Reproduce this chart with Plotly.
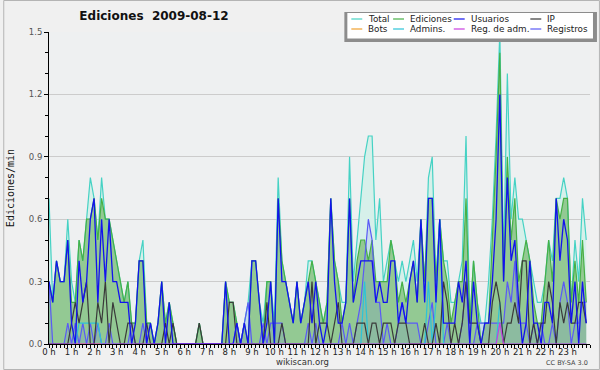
import plotly.graph_objects as go

# 10-minute slots over the day (144 points), values in edits per minute
slots_per_hour = 6
n_slots = 144
hour_labels = [f"{h} h" for h in range(24)]

total = [
    0.7, 0.2, 0.4, 0.3, 0.3, 0.6,
    0.3, 0.2, 0.5, 0.4, 0.6, 0.8,
    0.7, 0.5, 0.8, 0.6, 0.6, 0.5,
    0.4, 0.3, 0.2, 0.3, 0.1, 0.1,
    0.4, 0.5, 0.1, 0.1, 0.0, 0.1,
    0.3, 0.1, 0.2, 0.1, 0.0, 0.0,
    0.0, 0.0, 0.0, 0.0, 0.1, 0.0,
    0.0, 0.0, 0.0, 0.0, 0.0, 0.3,
    0.2, 0.2, 0.1, 0.0, 0.1, 0.2,
    0.4, 0.4, 0.2, 0.1, 0.3, 0.3,
    0.1, 0.8, 0.4, 0.3, 0.2, 0.1,
    0.3, 0.1, 0.2, 0.4, 0.4, 0.3,
    0.2, 0.1, 0.2, 0.7, 0.4, 0.3,
    0.2, 0.2, 0.9, 0.3, 0.5, 0.7,
    0.9, 1.0, 1.0, 0.5, 0.7, 0.3,
    0.4, 0.5, 0.4, 0.3, 0.4, 0.3,
    0.4, 0.5, 0.3, 0.6, 0.3, 0.8,
    0.9, 0.3, 0.6, 0.4, 0.4, 0.2,
    0.2, 0.3, 0.4, 1.0, 0.1, 0.4,
    0.2, 0.1, 0.1, 0.3, 0.6, 1.0,
    1.5, 0.4, 1.3, 0.6, 0.8, 0.6,
    0.6, 0.5, 0.4, 0.3, 0.2, 0.2,
    0.3, 0.5, 0.4, 0.7, 0.7, 0.8,
    0.7, 0.2, 0.5, 0.3, 0.7, 0.5,
]

ediciones = [
    0.3, 0.2, 0.4, 0.3, 0.3, 0.5,
    0.2, 0.2, 0.5, 0.4, 0.6, 0.6,
    0.7, 0.5, 0.7, 0.6, 0.6, 0.5,
    0.4, 0.3, 0.2, 0.3, 0.1, 0.1,
    0.4, 0.4, 0.1, 0.1, 0.0, 0.1,
    0.3, 0.1, 0.2, 0.1, 0.0, 0.0,
    0.0, 0.0, 0.0, 0.0, 0.1, 0.0,
    0.0, 0.0, 0.0, 0.0, 0.0, 0.3,
    0.2, 0.2, 0.1, 0.0, 0.1, 0.0,
    0.4, 0.4, 0.2, 0.0, 0.3, 0.3,
    0.0, 0.7, 0.4, 0.3, 0.2, 0.1,
    0.3, 0.1, 0.2, 0.3, 0.4, 0.3,
    0.2, 0.1, 0.2, 0.7, 0.4, 0.3,
    0.1, 0.2, 0.7, 0.2, 0.4, 0.5,
    0.5, 0.4, 0.5, 0.3, 0.3, 0.3,
    0.3, 0.5, 0.4, 0.2, 0.3, 0.2,
    0.3, 0.4, 0.2, 0.6, 0.3, 0.7,
    0.7, 0.3, 0.6, 0.4, 0.3, 0.1,
    0.2, 0.3, 0.3, 0.7, 0.1, 0.4,
    0.2, 0.0, 0.1, 0.1, 0.5, 0.9,
    1.4, 0.3, 0.9, 0.5, 0.7, 0.3,
    0.4, 0.5, 0.4, 0.2, 0.1, 0.1,
    0.3, 0.5, 0.3, 0.7, 0.6, 0.7,
    0.7, 0.2, 0.4, 0.2, 0.5, 0.2,
]

usuarios = [
    0.3, 0.2, 0.4, 0.3, 0.3, 0.5,
    0.1, 0.0, 0.4, 0.2, 0.3, 0.6,
    0.7, 0.2, 0.6, 0.3, 0.6, 0.3,
    0.3, 0.2, 0.2, 0.2, 0.0, 0.1,
    0.4, 0.4, 0.0, 0.1, 0.0, 0.1,
    0.3, 0.0, 0.2, 0.0, 0.0, 0.0,
    0.0, 0.0, 0.0, 0.0, 0.0, 0.0,
    0.0, 0.0, 0.0, 0.0, 0.0, 0.3,
    0.0, 0.0, 0.1, 0.0, 0.1, 0.0,
    0.4, 0.4, 0.2, 0.0, 0.1, 0.3,
    0.0, 0.7, 0.3, 0.3, 0.2, 0.1,
    0.3, 0.1, 0.2, 0.3, 0.1, 0.3,
    0.1, 0.0, 0.1, 0.7, 0.3, 0.1,
    0.1, 0.2, 0.7, 0.2, 0.3, 0.4,
    0.4, 0.4, 0.4, 0.2, 0.3, 0.2,
    0.2, 0.4, 0.4, 0.1, 0.2, 0.1,
    0.3, 0.4, 0.2, 0.6, 0.2, 0.7,
    0.7, 0.2, 0.6, 0.1, 0.1, 0.1,
    0.1, 0.3, 0.2, 0.4, 0.0, 0.3,
    0.1, 0.0, 0.1, 0.1, 0.3, 0.6,
    1.2, 0.3, 0.8, 0.4, 0.5, 0.2,
    0.0, 0.1, 0.4, 0.1, 0.1, 0.0,
    0.2, 0.2, 0.1, 0.7, 0.4, 0.6,
    0.5, 0.1, 0.3, 0.0, 0.3, 0.1,
]

ip = [
    0.0, 0.0, 0.0, 0.0, 0.0, 0.0,
    0.1, 0.2, 0.1, 0.2, 0.3, 0.0,
    0.0, 0.2, 0.1, 0.3, 0.0, 0.2,
    0.1, 0.0, 0.0, 0.1, 0.1, 0.0,
    0.0, 0.0, 0.1, 0.0, 0.0, 0.0,
    0.0, 0.1, 0.0, 0.1, 0.0, 0.0,
    0.0, 0.0, 0.0, 0.0, 0.1, 0.0,
    0.0, 0.0, 0.0, 0.0, 0.0, 0.0,
    0.2, 0.2, 0.0, 0.0, 0.0, 0.0,
    0.0, 0.0, 0.0, 0.0, 0.2, 0.0,
    0.0, 0.0, 0.1, 0.0, 0.0, 0.0,
    0.0, 0.0, 0.0, 0.0, 0.3, 0.0,
    0.1, 0.1, 0.1, 0.0, 0.1, 0.2,
    0.0, 0.0, 0.0, 0.0, 0.1, 0.1,
    0.1, 0.0, 0.1, 0.1, 0.0, 0.1,
    0.1, 0.1, 0.0, 0.1, 0.1, 0.1,
    0.0, 0.0, 0.0, 0.0, 0.1, 0.0,
    0.0, 0.1, 0.0, 0.3, 0.2, 0.0,
    0.1, 0.0, 0.1, 0.3, 0.1, 0.1,
    0.1, 0.0, 0.0, 0.0, 0.2, 0.3,
    0.2, 0.0, 0.1, 0.1, 0.2, 0.1,
    0.4, 0.4, 0.0, 0.1, 0.0, 0.1,
    0.1, 0.3, 0.2, 0.0, 0.2, 0.1,
    0.2, 0.1, 0.1, 0.2, 0.2, 0.1,
]

registros = [
    0.3, 0.0, 0.0, 0.0, 0.0, 0.1,
    0.0, 0.1, 0.0, 0.1, 0.0, 0.1,
    0.0, 0.1, 0.0, 0.0, 0.1, 0.0,
    0.0, 0.0, 0.0, 0.0, 0.1, 0.0,
    0.0, 0.1, 0.0, 0.0, 0.0, 0.0,
    0.0, 0.0, 0.0, 0.0, 0.0, 0.0,
    0.0, 0.0, 0.0, 0.0, 0.0, 0.0,
    0.0, 0.0, 0.0, 0.0, 0.0, 0.0,
    0.0, 0.0, 0.1, 0.0, 0.1, 0.2,
    0.0, 0.0, 0.0, 0.1, 0.0, 0.1,
    0.1, 0.1, 0.1, 0.0, 0.0, 0.0,
    0.0, 0.0, 0.0, 0.1, 0.0, 0.1,
    0.0, 0.0, 0.0, 0.0, 0.0, 0.0,
    0.1, 0.0, 0.1, 0.0, 0.1, 0.2,
    0.4, 0.6, 0.5, 0.2, 0.2, 0.0,
    0.1, 0.0, 0.0, 0.1, 0.2, 0.1,
    0.1, 0.1, 0.1, 0.0, 0.0, 0.1,
    0.2, 0.0, 0.0, 0.0, 0.1, 0.0,
    0.0, 0.0, 0.1, 0.3, 0.0, 0.0,
    0.1, 0.1, 0.1, 0.1, 0.1, 0.1,
    0.1, 0.1, 0.3, 0.2, 0.4, 0.1,
    0.1, 0.1, 0.0, 0.1, 0.0, 0.1,
    0.0, 0.0, 0.1, 0.0, 0.2, 0.3,
    0.2, 0.0, 0.1, 0.1, 0.2, 0.2,
]

admins = [0.0] * 8 + [0.1, 0.1, 0.1, 0.1, 0.1, 0.1] + [0.0] * 70 + [0.3] + [0.0] * 16 \
    + [0.3, 0.0, 0.2, 0.6] + [0.0] * 15 + [0.2] + [0.0] * 23
reg_adm = [0.0] * 120 + [0.1] + [0.0] * 23
bots = [0.0] * n_slots

x_hours = [i / slots_per_hour for i in range(n_slots)]

C_TOTAL = "#45d2c4"
C_EDIC = "#46b046"
C_USU = "#1212ee"
C_IP = "#3a3a3a"
C_BOTS = "#f0a030"
C_ADM = "#2cc4d8"
C_REGADM = "#c83ee0"
C_REG = "#5a5af6"

fig = go.Figure()
# filled areas
fig.add_trace(go.Scatter(x=x_hours, y=total, mode="lines", line=dict(width=0),
                         fill="tozeroy", fillcolor="#d6f0ea", showlegend=False, hoverinfo="skip"))
fig.add_trace(go.Scatter(x=x_hours, y=ediciones, mode="lines", line=dict(width=0),
                         fill="tozeroy", fillcolor="#93c993", showlegend=False, hoverinfo="skip"))
fig.add_trace(go.Scatter(x=x_hours, y=registros, mode="lines", line=dict(width=0),
                         fill="tozeroy", fillcolor="rgba(90,90,246,0.13)", showlegend=False, hoverinfo="skip"))
# lines
series = [
    ("Total", total, C_TOTAL, 1.2),
    ("Ediciones", ediciones, C_EDIC, 1.2),
    ("Bots", bots, C_BOTS, 1.0),
    ("Registros", registros, C_REG, 1.2),
    ("Admins.", admins, C_ADM, 1.2),
    ("IP", ip, C_IP, 1.2),
    ("Usuarios", usuarios, C_USU, 1.3),
    ("Reg. de adm.", reg_adm, C_REGADM, 1.2),
]
for name, ys, col, w in series:
    fig.add_trace(go.Scatter(x=x_hours, y=ys, name=name, mode="lines",
                             line=dict(color=col, width=w), showlegend=False))

L, R, T, B = 46, 10, 32, 26
W, H = 600, 370
pw, ph = W - L - R, H - T - B


def px(xp):
    return (xp - L) / pw


def py(yp):
    return (H - B - yp) / ph


shapes = []
annotations = []

# page border
shapes.append(dict(type="rect", xref="paper", yref="paper",
                   x0=px(0.5), x1=px(599.5), y0=py(369.5), y1=py(0.5),
                   line=dict(color="#b4b4b4", width=1), layer="below"))

# legend box (shadow + white box)
shapes.append(dict(type="rect", xref="paper", yref="paper",
                   x0=px(343), x1=px(597), y0=py(42), y1=py(12),
                   fillcolor="#8c8c8c", line=dict(width=0), layer="above"))
shapes.append(dict(type="rect", xref="paper", yref="paper",
                   x0=px(346), x1=px(593), y0=py(38.5), y1=py(13),
                   fillcolor="#ffffff", line=dict(width=0), layer="above"))

legend_entries = [
    ("Total", C_TOTAL, 350, 19), ("Ediciones", C_EDIC, 392, 19),
    ("Usuarios", C_USU, 453, 19), ("IP", C_IP, 530, 19),
    ("Bots", C_BOTS, 350, 29), ("Admins.", C_ADM, 392, 29),
    ("Reg. de adm.", C_REGADM, 453, 29), ("Registros", C_REG, 530, 29),
]
for name, col, lx, ly in legend_entries:
    shapes.append(dict(type="line", xref="paper", yref="paper",
                       x0=px(lx), x1=px(lx + 11), y0=py(ly), y1=py(ly),
                       line=dict(color=col, width=1.2), layer="above"))
    annotations.append(dict(text=name, xref="paper", yref="paper",
                            x=px(lx + 15), y=py(ly), xanchor="left", yanchor="middle",
                            showarrow=False, font=dict(family="DejaVu Sans", size=8.8, color="#222")))

annotations.append(dict(text="wikiscan.org", xref="paper", yref="paper",
                        x=px(301), y=py(362), xanchor="center", yanchor="middle",
                        showarrow=False, font=dict(family="DejaVu Sans", size=8.5, color="#333")))
annotations.append(dict(text="CC BY-SA 3.0", xref="paper", yref="paper",
                        x=px(590), y=py(362.5), xanchor="right", yanchor="middle",
                        showarrow=False, font=dict(family="DejaVu Sans", size=6.5, color="#444")))

fig.update_layout(
    width=W, height=H,
    margin=dict(l=L, r=R, t=T, b=B, pad=0),
    paper_bgcolor="#f0f0f0",
    plot_bgcolor="#eef0f1",
    showlegend=False,
    title=dict(text="Ediciones\u00a0 2009-08-12", x=154 / W, xref="container", xanchor="center",
               y=1 - 16 / H, yref="container", yanchor="middle",
               font=dict(family="DejaVu Sans", size=12, color="#111", weight="bold")),
    xaxis=dict(range=[0, 24], tickvals=list(range(24)), ticktext=hour_labels,
               showgrid=False, zeroline=False, showline=True, linecolor="#000", linewidth=1,
               ticks="outside", ticklen=3, tickcolor="#000", tickwidth=1,
               ticklabelstandoff=-3,
               tickfont=dict(family="DejaVu Sans", size=8.5, color="#222"),
               minor=dict(dtick=1 / slots_per_hour, tick0=0, ticks="outside", ticklen=3,
                          tickcolor="#000", tickwidth=1, showgrid=False),
               fixedrange=True),
    yaxis=dict(range=[0, 1.5], tick0=0, dtick=0.3, tickformat=".1f",
               showgrid=True, gridcolor="#cccccc", gridwidth=1, zeroline=False,
               showline=True, linecolor="#000", linewidth=1,
               ticks="outside", ticklen=4, tickcolor="#000", tickwidth=1,
               tickfont=dict(family="DejaVu Sans", size=8.5, color="#555"),
               minor=dict(dtick=0.1, ticks="outside", ticklen=3, tickcolor="#000",
                          tickwidth=1, showgrid=False),
               title=dict(text="Ediciones/min", standoff=12,
                          font=dict(family="DejaVu Sans Mono", size=10, color="#111")),
               fixedrange=True),
    shapes=shapes,
    annotations=annotations,
)

fig.write_html("out.html", config={"displayModeBar": False},
               post_script="document.body.style.margin='0';")
